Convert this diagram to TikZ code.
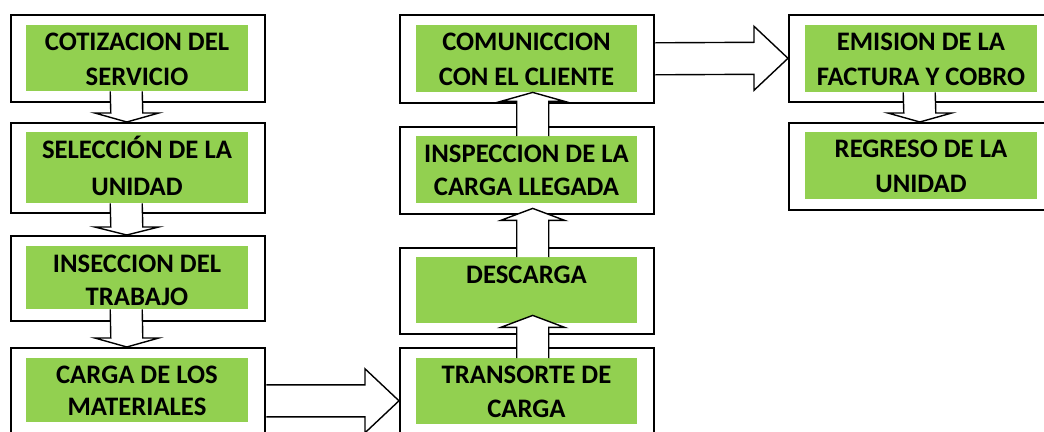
\documentclass[tikz,border=0pt]{standalone}
\usepackage{fontspec}
\setmainfont{Carlito}
\usetikzlibrary{calc}
\definecolor{lgreen}{HTML}{92D050}
\tikzset{
  outer/.style={draw=black, line width=1.6pt, fill=white, rectangle, inner sep=0pt, anchor=north west},
  gbox/.style={fill=lgreen, rectangle, inner sep=0pt, anchor=north west},
  txt/.style={font=\fontsize{26.7pt}{30pt}\selectfont\bfseries, inner sep=0pt, anchor=base},
  blk/.style={draw=black, line width=1.4pt, line join=miter},
}
% vertical block arrow: #1 shaft base anchor, #2 tip anchor, #3 x offset, #4 head length shift (canvas)
\newcommand\varr[4]{%
  \fill[white] ([xshift=#3-16pt]#1) -- ([xshift=#3-16pt,yshift=#4]#2) -- ([xshift=#3-32pt,yshift=#4]#2) -- ([xshift=#3]#2) -- ([xshift=#3+32pt,yshift=#4]#2) -- ([xshift=#3+16pt,yshift=#4]#2) -- ([xshift=#3+16pt]#1) -- cycle;
  \draw[blk] ([xshift=#3-16pt]#1) -- ([xshift=#3-16pt,yshift=#4]#2) -- ([xshift=#3-32pt,yshift=#4]#2) -- ([xshift=#3]#2) -- ([xshift=#3+32pt,yshift=#4]#2) -- ([xshift=#3+16pt,yshift=#4]#2) -- ([xshift=#3+16pt]#1);
}
% horizontal block arrow: #1 shaft base anchor, #2 tip anchor
\newcommand\harr[2]{%
  \fill[white] ([xshift=0.8pt,yshift=16pt]#1) -- ([xshift=-34pt,yshift=16pt]#2) -- ([xshift=-34pt,yshift=32pt]#2) -- (#2) -- ([xshift=-34pt,yshift=-32pt]#2) -- ([xshift=-34pt,yshift=-16pt]#2) -- ([xshift=0.8pt,yshift=-16pt]#1) -- cycle;
  \draw[blk] ([xshift=0.8pt,yshift=16pt]#1) -- ([xshift=-34pt,yshift=16pt]#2) -- ([xshift=-34pt,yshift=32pt]#2) -- (#2) -- ([xshift=-34pt,yshift=-32pt]#2) -- ([xshift=-34pt,yshift=-16pt]#2) -- ([xshift=0.8pt,yshift=-16pt]#1);
}
\begin{document}
\begin{tikzpicture}[x=1pt,y=-1pt]
\useasboundingbox (0,0) rectangle (1044,431);
% outer boxes
\node[outer, minimum width=254pt, minimum height=87pt]  (o1) at (10,14) {};
\node[outer, minimum width=254pt, minimum height=90pt]  (o2) at (10,122) {};
\node[outer, minimum width=254pt, minimum height=85pt]  (o3) at (10,235) {};
\node[outer, minimum width=254pt, minimum height=106pt] (o4) at (10,347) {};
\node[outer, minimum width=254pt, minimum height=88pt]  (oA) at (399,14) {};
\node[outer, minimum width=254pt, minimum height=87pt]  (oB) at (399,126) {};
\node[outer, minimum width=254pt, minimum height=86pt]  (oC) at (399,247) {};
\node[outer, minimum width=254pt, minimum height=106pt] (oD) at (399,347) {};
\node[outer, minimum width=266pt, minimum height=87pt]  (oE) at (788,14) {};
\node[outer, minimum width=266pt, minimum height=87pt]  (oF) at (788,122) {};
% green panels
\node[gbox, minimum width=222pt, minimum height=66pt] (g1) at (26,25) {};
\node[gbox, minimum width=222pt, minimum height=71pt] (g2) at (26,132) {};
\node[gbox, minimum width=222pt, minimum height=63pt] (g3) at (26,246) {};
\node[gbox, minimum width=222pt, minimum height=64pt] (g4) at (26,358) {};
\node[gbox, minimum width=221pt, minimum height=67pt] (gA) at (416,25) {};
\node[gbox, minimum width=221pt, minimum height=67pt] (gB) at (416,136) {};
\node[gbox, minimum width=221pt, minimum height=66pt] (gC) at (416,257) {};
\node[gbox, minimum width=221pt, minimum height=66pt] (gD) at (416,358) {};
\node[gbox, minimum width=232pt, minimum height=67pt] (gE) at (805,25) {};
\node[gbox, minimum width=232pt, minimum height=67pt] (gF) at (805,132) {};
% texts
\node[txt] (t1a) at (137,50.5) {COTIZACION DEL};
\node[txt] (t1b) at (137,85) {SERVICIO};
\node[txt] (t2a) at (137,158) {SELECCIÓN DE LA};
\node[txt] (t2b) at (137,195) {UNIDAD};
\node[txt] (t3a) at (137,272) {INSECCION DEL};
\node[txt] (t3b) at (137,305) {TRABAJO};
\node[txt] (t4a) at (137,383) {CARGA DE LOS};
\node[txt] (t4b) at (137,415) {MATERIALES};
\node[txt] (tAa) at (526.5,50.5) {COMUNICCION};
\node[txt] (tAb) at (526.5,85) {CON EL CLIENTE};
\node[txt] (tBa) at (526.5,162) {INSPECCION DE LA};
\node[txt] (tBb) at (526.5,195) {CARGA LLEGADA};
\node[txt] (tCa) at (526.5,283) {DESCARGA};
\node[txt] (tDa) at (526.5,383) {TRANSORTE DE};
\node[txt] (tDb) at (526.5,417) {CARGA};
\node[txt] (tEa) at (921,50.5) {EMISION DE LA};
\node[txt] (tEb) at (921,85) {FACTURA Y COBRO};
\node[txt] (tFa) at (921,157) {REGRESO DE LA};
\node[txt] (tFb) at (921,192) {UNIDAD};
% tips
\coordinate (tipCB) at ([yshift=-5pt]gB.south);
\coordinate (tipDC) at ([yshift=8pt]gC.south);
% arrows
\varr{g1.south}{o2.north}{-11pt}{9pt}
\varr{g2.south}{o3.north}{-11pt}{8pt}
\varr{g3.south}{o4.north}{-11pt}{9pt}
\varr{gE.south}{oF.north}{-2pt}{9pt}
\varr{gB.north}{gA.south}{6pt}{-9pt}
\varr{gC.north}{tipCB}{6pt}{-12pt}
\varr{gD.north}{tipDC}{6pt}{-12pt}
\harr{o4.east}{oD.west}
\harr{oA.east}{oE.west}
\end{tikzpicture}
\end{document}
